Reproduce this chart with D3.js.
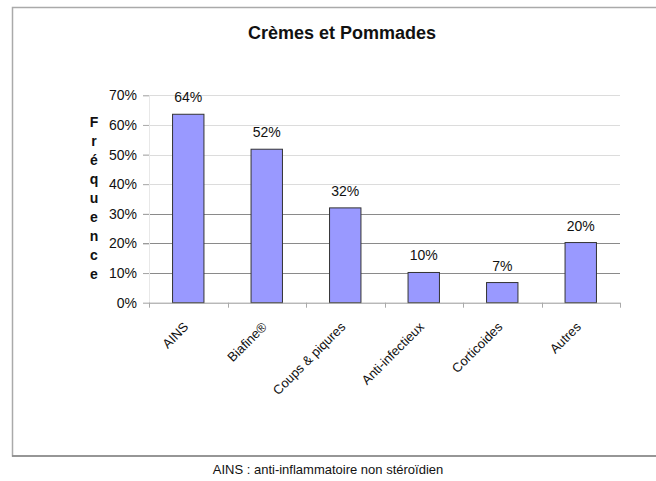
<!DOCTYPE html>
<html><head><meta charset="utf-8">
<script src="https://cdn.jsdelivr.net/npm/d3@7"></script>
<style>body{margin:0;background:#fff;}svg{display:block;font-family:"Liberation Sans",Arial,sans-serif;}</style>
</head><body>
<svg id="c" width="656" height="481"></svg>
<script>
const categories = ["AINS","Biafine®","Coups & piqures","Anti-infectieux","Corticoides","Autres"];
const values = [0.636, 0.518, 0.32, 0.102, 0.068, 0.203];
const valueLabels = ["64%","52%","32%","10%","7%","20%"];
const yTicks = [0,0.1,0.2,0.3,0.4,0.5,0.6,0.7];
const title = "Crèmes et Pommades";
const yTitle = "Fréquence";
const footnote = "AINS : anti-inflammatoire non stéroïdien";

const svg = d3.select("#c");
const L = 149, R = 620, T = 95.3, B = 302.7;

svg.append("rect").attr("x",12.5).attr("y",7.5).attr("width",720).attr("height",448.5)
  .attr("fill","#fff").attr("stroke","#aaa").attr("stroke-width",1.5);
svg.append("line").attr("x1",12).attr("x2",656).attr("y1",456).attr("y2",456).attr("stroke","#888").attr("stroke-width",1.5);

const x = d3.scaleBand().domain(categories).range([L,R]).paddingInner(0.6).paddingOuter(0.3);
const xb = d3.scaleBand().domain(categories).range([L,R]);
const y = d3.scaleLinear().domain([0,0.7]).range([B,T]);

// gridlines
svg.append("g").selectAll("line").data(yTicks.filter(d=>d>0)).join("line")
  .attr("x1",L-6).attr("x2",R).attr("y1",d=>Math.round(y(d))+0.5).attr("y2",d=>Math.round(y(d))+0.5)
  .attr("stroke",d=>d<=0.3?"#8a8a8a":"#dcdcdc").attr("stroke-width",1);

// y axis
const ya = svg.append("g").attr("transform",`translate(${L},0)`)
  .call(d3.axisLeft(y).tickValues(yTicks).tickFormat(d3.format(".0%")).tickSize(6).tickPadding(6));
ya.select(".domain").attr("stroke","#e8e8e8");
ya.selectAll(".tick line").attr("stroke","#aaa");
ya.selectAll("text").attr("font-size",14).attr("fill","#111").attr("font-family","Liberation Sans, Arial, sans-serif");

// bars
svg.append("g").selectAll("rect").data(values).join("rect")
  .attr("x",(d,i)=>x(categories[i])).attr("width",x.bandwidth())
  .attr("y",d=>y(d)).attr("height",d=>B-y(d))
  .attr("fill","#9999ff").attr("stroke","#333").attr("stroke-width",1);

// x axis
const xa = svg.append("g").attr("transform",`translate(0,${B})`);
xa.append("line").attr("x1",L).attr("x2",R).attr("y1",0.5).attr("y2",0.5).attr("stroke","#999");
xa.selectAll(".t").data(categories.concat([null])).join("line")
  .attr("x1",(d,i)=>Math.round(L+i*xb.bandwidth())+0.5).attr("x2",(d,i)=>Math.round(L+i*xb.bandwidth())+0.5)
  .attr("y1",0).attr("y2",5).attr("stroke","#aaa");
xa.selectAll("text").data(categories).join("text")
  .attr("transform",d=>`translate(${xb(d)+xb.bandwidth()/2+1},25) rotate(-45)`)
  .attr("text-anchor","end").attr("font-size",13).attr("fill","#111").text(d=>d);

// value labels
svg.append("g").selectAll("text").data(values).join("text")
  .attr("x",(d,i)=>x(categories[i])+x.bandwidth()/2).attr("y",d=>y(d)-12)
  .attr("text-anchor","middle").attr("font-size",14).attr("fill","#111").text((d,i)=>valueLabels[i]);

// y title stacked letters
svg.append("g").selectAll("text").data(Array.from(yTitle)).join("text")
  .attr("x",94).attr("y",(d,i)=>127+i*19).attr("text-anchor","middle")
  .attr("font-size",14).attr("font-weight","bold").attr("fill","#111").text(d=>d);

svg.append("text").attr("x",342).attr("y",39).attr("text-anchor","middle")
  .attr("font-size",18).attr("font-weight","bold").attr("fill","#111").text(title);

svg.append("text").attr("x",328).attr("y",474).attr("text-anchor","middle")
  .attr("font-size",13).attr("fill","#111").text(footnote);
</script>
</body></html>
